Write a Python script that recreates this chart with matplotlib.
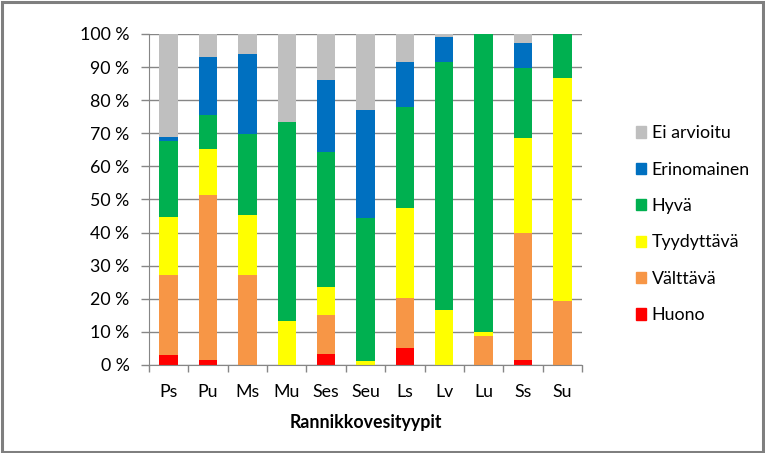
# Rannikkovesityypit - ekologinen tila (pinottu 100 % pylväs)

import numpy as np
import matplotlib.pyplot as plt
from matplotlib.patches import Patch, Rectangle

plt.rcParams['font.family'] = ['Lato', 'DejaVu Sans']

tyypit = ["Ps", "Pu", "Ms", "Mu", "Ses", "Seu", "Ls", "Lv", "Lu", "Ss", "Su"]

# osuudet prosentteina, alimmasta ylimpään
huono = [3.0, 1.5, 0, 0, 3.3, 0, 5.1, 0, 0, 1.5, 0]
valttava = [24.2, 49.9, 27.2, 0, 11.8, 0, 15.2, 0, 8.8, 38.4, 19.4]
tyydyttava = [17.6, 13.9, 18.2, 13.4, 8.5, 1.3, 27.2, 16.6, 1.2, 28.7, 67.4]
hyva = [22.9, 10.3, 24.5, 60.1, 40.8, 43.2, 30.5, 75.0, 90.0, 21.2, 13.2]
erinomainen = [1.3, 17.3, 24.0, 0, 21.8, 32.6, 13.6, 7.6, 0, 7.6, 0]
ei_arvioitu = [31.0, 7.1, 6.1, 26.5, 13.8, 22.9, 8.4, 0.8, 0, 2.6, 0]

sarjat = [
    ("Huono", huono, "#FF0000"),
    ("Välttävä", valttava, "#F79646"),
    ("Tyydyttävä", tyydyttava, "#FFFF00"),
    ("Hyvä", hyva, "#00B050"),
    ("Erinomainen", erinomainen, "#0070C0"),
    ("Ei arvioitu", ei_arvioitu, "#BFBFBF"),
]

fs = 12.8

fig = plt.figure(figsize=(7.65, 4.53), dpi=100)
fig.patches.append(Rectangle((0.002, 0.003), 0.995, 0.993, transform=fig.transFigure,
                             fill=False, edgecolor="#7F7F7F", linewidth=2.2))
ax = fig.add_axes([0.1948, 0.1943, 0.566, 0.7307])

x = np.arange(len(tyypit))
pohja = np.zeros(len(tyypit))
for nimi, arvot, vari in sarjat:
    ax.bar(x, arvot, 0.47, bottom=pohja, color=vari, label=nimi, zorder=3)
    pohja += np.array(arvot)

ax.set_xlim(-0.5, len(tyypit) - 0.5)
ax.set_ylim(0, 100)
ax.set_yticks(range(0, 101, 10))
ax.set_yticklabels([f"{v} %" for v in range(0, 101, 10)], fontsize=fs)
ax.set_xticks(x)
ax.set_xticklabels(tyypit, fontsize=fs)
ax.set_xticks(np.arange(-0.5, len(tyypit)), minor=True)
ax.tick_params(axis="x", which="major", length=0, pad=14)
ax.tick_params(axis="x", which="minor", length=5, color="#868686", width=1)
ax.tick_params(axis="y", length=6, color="#868686", width=1, pad=8)
ax.grid(axis="y", color="#868686", linewidth=1, zorder=0)

for s in ["top", "right"]:
    ax.spines[s].set_visible(False)
for s in ["left", "bottom"]:
    ax.spines[s].set_color("#868686")
    ax.spines[s].set_zorder(4)

ax.set_xlabel("Rannikkovesityypit", fontsize=fs, fontweight="bold", labelpad=10)

kahvat = [Patch(color=v, label=n) for n, _, v in reversed(sarjat)]
fig.legend(handles=kahvat, loc="center left", bbox_to_anchor=(0.81, 0.505),
           frameon=False, fontsize=fs, handlelength=0.6, handleheight=0.6,
           handletextpad=0.3, labelspacing=1.15)

fig.savefig("out.png", dpi=100)
